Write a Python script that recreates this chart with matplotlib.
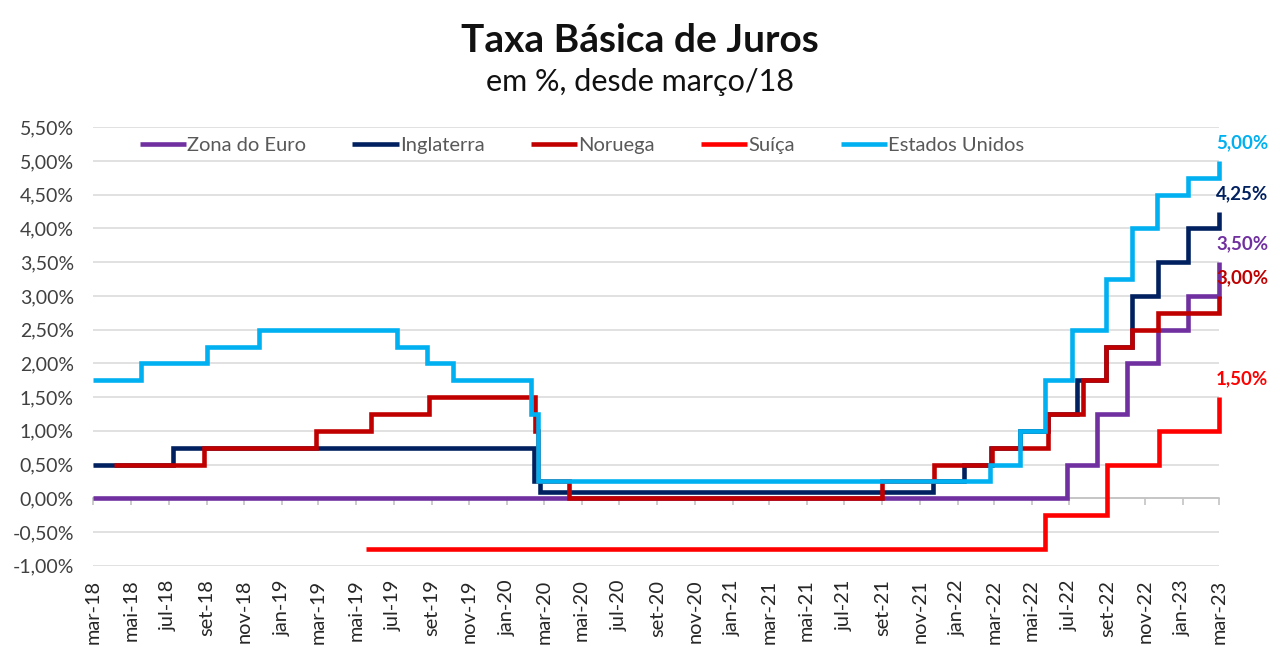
import matplotlib
matplotlib.use('Agg')
import matplotlib.pyplot as plt
import matplotlib.dates as mdates

plt.rcParams['font.family'] = ['Lato', 'DejaVu Sans']

# ---------------- data (step changes) ----------------
euro_dates = ['2018-03-01', '2022-06-27', '2022-08-15', '2022-10-03', '2022-11-22',
              '2023-01-10', '2023-03-01']
euro_rates = [0.00, 0.50, 1.25, 2.00, 2.50, 3.00, 3.50]

uk_dates = ['2018-03-01', '2018-07-08', '2020-02-14', '2020-02-23', '2021-11-22',
            '2022-01-12', '2022-02-24', '2022-04-12', '2022-05-28', '2022-07-13',
            '2022-08-29', '2022-10-11', '2022-11-22', '2023-01-10', '2023-03-01']
uk_rates = [0.50, 0.75, 0.25, 0.10, 0.25, 0.50, 0.75, 1.00, 1.25, 1.75, 2.25,
            3.00, 3.50, 4.00, 4.25]

no_dates = ['2018-04-03', '2018-08-27', '2019-02-26', '2019-05-26', '2019-08-27',
            '2020-02-16', '2020-02-21', '2020-04-10', '2021-09-01', '2021-11-24',
            '2022-02-26', '2022-05-28', '2022-07-24', '2022-08-29', '2022-10-11',
            '2022-11-22', '2023-03-01']
no_rates = [0.50, 0.75, 1.00, 1.25, 1.50, 1.00, 0.25, 0.00, 0.25, 0.50, 0.75,
            1.25, 1.75, 2.25, 2.50, 2.75, 3.00]

ch_dates = ['2019-05-18', '2022-05-23', '2022-08-31', '2022-11-24', '2023-03-01']
ch_rates = [-0.75, -0.25, 0.50, 1.00, 1.50]

us_dates = ['2018-03-01', '2018-05-18', '2018-09-02', '2018-11-25', '2019-07-06',
            '2019-08-24', '2019-10-06', '2020-02-09', '2020-02-21', '2022-02-23',
            '2022-04-12', '2022-05-23', '2022-07-05', '2022-08-29', '2022-10-11',
            '2022-11-21', '2023-01-09', '2023-03-01']
us_rates = [1.75, 2.00, 2.25, 2.50, 2.25, 2.00, 1.75, 1.25, 0.25, 0.50, 1.00,
            1.75, 2.50, 3.25, 4.00, 4.50, 4.75, 5.00]

series_names = ['Zona do Euro', 'Inglaterra', 'Noruega', 'Suíça', 'Estados Unidos']
series_dates = [euro_dates, uk_dates, no_dates, ch_dates, us_dates]
series_rates = [euro_rates, uk_rates, no_rates, ch_rates, us_rates]
series_colors = ['#7030A0', '#002060', '#C00000', '#FF0000', '#00B0F0']

tick_dates = ['2018-03-01', '2018-05-01', '2018-07-01', '2018-09-01', '2018-11-01',
              '2019-01-01', '2019-03-01', '2019-05-01', '2019-07-01', '2019-09-01',
              '2019-11-01', '2020-01-01', '2020-03-01', '2020-05-01', '2020-07-01',
              '2020-09-01', '2020-11-01', '2021-01-01', '2021-03-01', '2021-05-01',
              '2021-07-01', '2021-09-01', '2021-11-01', '2022-01-01', '2022-03-01',
              '2022-05-01', '2022-07-01', '2022-09-01', '2022-11-01', '2023-01-01',
              '2023-03-01']
tick_labels = ['mar-18', 'mai-18', 'jul-18', 'set-18', 'nov-18', 'jan-19', 'mar-19',
               'mai-19', 'jul-19', 'set-19', 'nov-19', 'jan-20', 'mar-20', 'mai-20',
               'jul-20', 'set-20', 'nov-20', 'jan-21', 'mar-21', 'mai-21', 'jul-21',
               'set-21', 'nov-21', 'jan-22', 'mar-22', 'mai-22', 'jul-22', 'set-22',
               'nov-22', 'jan-23', 'mar-23']
y_ticks = [-1.0, -0.5, 0.0, 0.5, 1.0, 1.5, 2.0, 2.5, 3.0, 3.5, 4.0, 4.5, 5.0, 5.5]

title = 'Taxa Básica de Juros'
subtitle = 'em %, desde março/18'

# ---------------- figure ----------------
W, H = 1280, 656
fig = plt.figure(figsize=(W / 100, H / 100), dpi=100)
ax = fig.add_axes([93.3 / W, 1 - 565.7 / H, (1219 - 93.3) / W, (565.7 - 127.3) / H])

for name, d, r, c in zip(series_names, series_dates, series_rates, series_colors):
    xs = mdates.datestr2num(d)
    ax.plot(xs, r, drawstyle='steps-post', color=c, lw=3.3, label=name,
            solid_joinstyle='miter', solid_capstyle='butt', zorder=3, clip_on=False)
    lbl = f'{r[-1]:.2f}%'.replace('.', ',')
    ax.annotate(lbl, xy=(xs[-1], r[-1]), xytext=(-3, 18), textcoords='offset pixels',
                ha='left', va='center', fontsize=13.5, fontweight='bold', color=c,
                annotation_clip=False)

tnum = mdates.datestr2num(tick_dates)
ax.set_xlim(tnum[0], tnum[-1])
ax.set_ylim(-1.0, 5.5)
ax.set_yticks(y_ticks)
ax.set_yticklabels([f'{v:.2f}%'.replace('.', ',') for v in y_ticks])
ax.yaxis.grid(True, color='#d9d9d9', lw=1.1, zorder=0)
ax.set_axisbelow(True)
ax.tick_params(axis='y', length=0, pad=14, labelsize=14, labelcolor='#404040')

for s in ['top', 'right', 'left']:
    ax.spines[s].set_visible(False)
ax.spines['bottom'].set_position(('data', 0))
ax.spines['bottom'].set_color('#bfbfbf')
ax.spines['bottom'].set_linewidth(1.1)
ax.set_xticks(tnum)
ax.tick_params(axis='x', direction='out', length=5, width=1.1, color='#bfbfbf',
               labelbottom=False)

sec = ax.secondary_xaxis(0.0)
sec.set_xticks(tnum)
sec.set_xticklabels(tick_labels, rotation=90)
sec.tick_params(length=0, pad=10, labelsize=14.4, labelcolor='#262626')
sec.spines['bottom'].set_visible(False)

leg = fig.legend(loc='center', bbox_to_anchor=(582 / W, 1 - 145 / H), ncol=5,
                 frameon=False, fontsize=14.5, handlelength=2.3, handletextpad=0.05,
                 columnspacing=2.3)
for t in leg.get_texts():
    t.set_color('#595959')

fig.text(0.5, 1 - 40 / H, title, ha='center', va='center', fontsize=28,
         fontweight='bold', color='#111111')
fig.text(0.5, 1 - 82 / H, subtitle, ha='center', va='center', fontsize=22,
         color='#111111')

fig.savefig('out.png', dpi=100)
